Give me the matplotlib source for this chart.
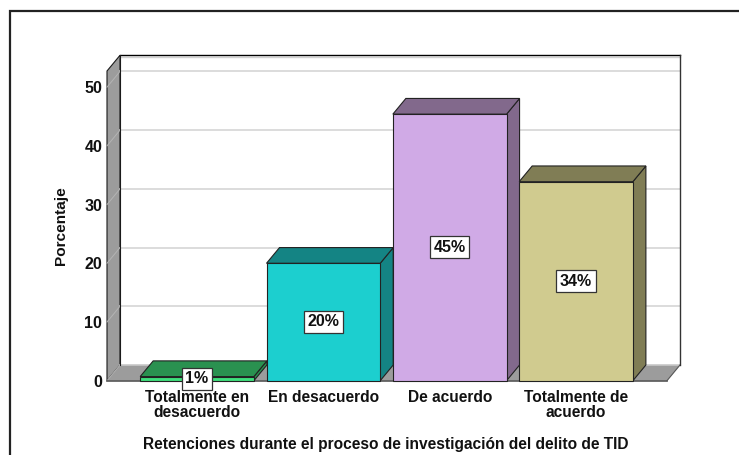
import matplotlib
matplotlib.use('Agg')
import matplotlib.pyplot as plt
from matplotlib.patches import Polygon
from matplotlib.lines import Line2D

plt.rcParams['font.family'] = ['Liberation Sans', 'DejaVu Sans']

categories = ['Totalmente en\ndesacuerdo', 'En desacuerdo', 'De acuerdo', 'Totalmente de\nacuerdo']
values = [0.7, 20.0, 45.4, 33.9]
labels = ['1%', '20%', '45%', '34%']
y_ticks = [0, 10, 20, 30, 40, 50]
front_colors = ['#3fe07c', '#1ccfcf', '#d0aae6', '#d0cb8f']
top_colors = ['#2a9150', '#148484', '#82698c', '#807d55']

W, H = 739, 455
fig = plt.figure(figsize=(W / 100, H / 100), dpi=100)
ax = fig.add_axes([107 / W, 1 - 380.7 / H, 560 / W, 309.7 / H])
ax.set_xlim(-0.7126, 3.72)
ax.set_ylim(0, 52.75)
for s in ax.spines.values():
    s.set_visible(False)
ax.patch.set_visible(False)

# depth of the fake 3d, in data units
dx = 13 / 126.3
dy = 15.7 / 5.87
x0, x1 = ax.get_xlim()
y1 = ax.get_ylim()[1]
bar_w = 0.9


def poly(pts, fc, ec='#222222', lw=0.8, z=2):
    ax.add_patch(Polygon(pts, closed=True, facecolor=fc, edgecolor=ec, linewidth=lw,
                         zorder=z, clip_on=False, joinstyle='miter'))


# walls and floor
poly([(x0 + dx, dy), (x1 + dx, dy), (x1 + dx, y1 + dy), (x0 + dx, y1 + dy)], 'white', ec='none', z=1)
poly([(x0, 0), (x0 + dx, dy), (x0 + dx, y1 + dy), (x0, y1)], '#9c9c9c', ec='#1a1a1a', z=1)
poly([(x0, 0), (x1, 0), (x1 + dx, dy), (x0 + dx, dy)], '#9c9c9c', ec='none', z=1)

for t in y_ticks[1:]:
    ax.plot([x0 + dx, x1 + dx], [t + dy, t + dy], color='#d6d6d6', lw=1.2, zorder=1.2, clip_on=False)
    ax.plot([x0, x0 + dx], [t, t + dy], color='#b4b4b4', lw=0.7, zorder=1.2, clip_on=False)

ax.plot([x0 + dx, x1 + dx], [dy, dy], color='#c8c8c8', lw=1.2, zorder=1.2, clip_on=False)
ax.plot([x0, x0 + dx], [0, dy], color='#b4b4b4', lw=0.7, zorder=1.2, clip_on=False)
ax.plot([x1, x1 + dx], [0, dy], color='#555555', lw=0.8, zorder=1.2, clip_on=False)
ax.plot([x0 + dx, x1 + dx], [y1 + dy - 0.3, y1 + dy - 0.3], color='#d2d2d2', lw=1.0, zorder=1.2, clip_on=False)
ax.plot([x0 + dx, x1 + dx], [y1 + dy, y1 + dy], color='black', lw=1.0, zorder=1.3, clip_on=False)
ax.plot([x1 + dx, x1 + dx], [dy, y1 + dy], color='#333333', lw=1.0, zorder=1.3, clip_on=False)
ax.plot([x0 + dx, x0 + dx], [dy, y1 + dy], color='#1a1a1a', lw=0.8, zorder=1.3, clip_on=False)
ax.plot([x0, x1], [0, 0], color='#555555', lw=1.2, zorder=1.3, clip_on=False)

# bars, drawn left to right so each one covers the side of the previous floor part
for i, v in enumerate(values):
    l, r = i - bar_w / 2, i + bar_w / 2
    z = 2 + i * 0.1
    poly([(r, 0), (r + dx, dy), (r + dx, v + dy), (r, v)], top_colors[i], z=z)
    poly([(l, v), (r, v), (r + dx, v + dy), (l + dx, v + dy)], top_colors[i], z=z)
    poly([(l, 0), (r, 0), (r, v), (l, v)], front_colors[i], z=z)

for i, v in enumerate(values):
    ax.text(i, v / 2, labels[i], ha='center', va='center', fontsize=11.5, fontweight='bold',
            color='#111111', zorder=5,
            bbox=dict(boxstyle='square,pad=0.22', facecolor='white', edgecolor='#333333', linewidth=0.9))

ax.set_xticks(range(len(categories)))
ax.set_xticklabels(categories, fontsize=11.2, fontweight='bold', linespacing=1.05, color='#111111')
ax.set_yticks(y_ticks)
ax.set_yticklabels([str(t) for t in y_ticks], fontsize=11.5, fontweight='bold', color='#111111')
ax.tick_params(axis='both', length=0)
ax.tick_params(axis='x', pad=6.5)
ax.tick_params(axis='y', pad=3.5)

fig.text(61 / W, 1 - 226 / H, 'Porcentaje', rotation=90, ha='center', va='center', fontsize=11.1,
         fontweight='bold', color='#111111')
fig.text(386 / W, 1 - 444 / H, 'Retenciones durante el proceso de investigación del delito de TID',
         ha='center', va='center', fontsize=11.2, fontweight='bold', color='#111111')

# outer frame, cut by the image on the right and bottom
fig.add_artist(Line2D([9.5 / W, 9.5 / W, 1], [0, 1 - 10.5 / H, 1 - 10.5 / H], color='#222222', lw=1.6,
                      solid_joinstyle='miter'))

fig.savefig('out.png', dpi=100)
